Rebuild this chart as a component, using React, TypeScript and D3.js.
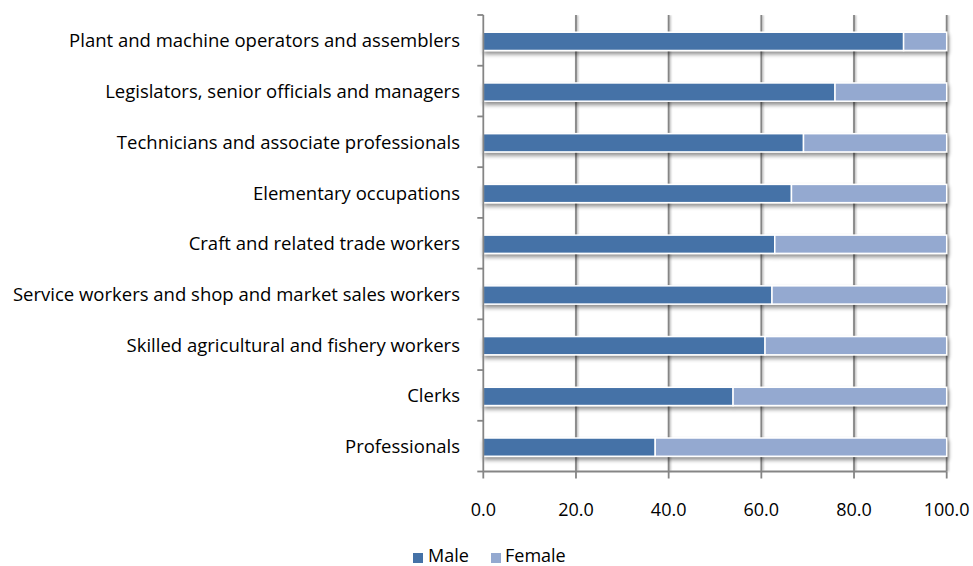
import React from "react";
import * as d3 from "d3";

const categories = [
  "Plant and machine operators and assemblers",
  "Legislators, senior officials and managers",
  "Technicians and associate professionals",
  "Elementary occupations",
  "Craft and related trade workers",
  "Service workers and shop and market sales workers",
  "Skilled agricultural and fishery workers",
  "Clerks",
  "Professionals",
];
const maleValues = [90.7, 75.9, 69.1, 66.5, 62.9, 62.3, 60.8, 53.9, 37.1];
const femaleValues = maleValues.map((m) => +(100 - m).toFixed(1));
const xTicks = [0, 20, 40, 60, 80, 100];
const seriesNames = ["Male", "Female"];
const colors = ["#4572a7", "#94a9d0"];

const W = 973;
const H = 566;
const left = 483.3;
const right = 946.7;
const top = 15;
const bottom = 471.5;
const FONT = "'Open Sans', sans-serif";
const FS = 18;

export default function App() {
  const x = d3.scaleLinear().domain([0, 100]).range([left, right]);
  const y = d3.scaleBand<string>().domain(categories).range([top, bottom]).paddingInner(0.64).paddingOuter(0.32);
  const bh = y.bandwidth();
  const boundaries = d3.range(categories.length + 1).map((i) => top + i * ((bottom - top) / categories.length));

  return (
    <svg width={W} height={H} style={{ position: "absolute", left: 0, top: 0, background: "#fff" }}>
      <defs>
        <filter id="shadow" x="-5%" y="-50%" width="110%" height="250%">
          <feGaussianBlur in="SourceAlpha" stdDeviation="2" />
          <feOffset dx="1" dy="3" result="b" />
          <feComponentTransfer>
            <feFuncA type="linear" slope="0.45" />
          </feComponentTransfer>
          <feMerge>
            <feMergeNode />
            <feMergeNode in="SourceGraphic" />
          </feMerge>
        </filter>
        <filter id="gshadow" x="-200%" y="0%" width="500%" height="110%">
          <feGaussianBlur in="SourceAlpha" stdDeviation="0.8" />
          <feOffset dx="1" dy="0" />
          <feComponentTransfer>
            <feFuncA type="linear" slope="0.35" />
          </feComponentTransfer>
          <feMerge>
            <feMergeNode />
            <feMergeNode in="SourceGraphic" />
          </feMerge>
        </filter>
      </defs>
      {/* gridlines */}
      <g filter="url(#gshadow)">
        {xTicks.slice(1).map((t) => (
          <line key={t} x1={x(t)} x2={x(t)} y1={top} y2={bottom} stroke="#858585" strokeWidth={1.8} />
        ))}
      </g>
      {/* bars */}
      {categories.map((c, i) => {
        const y0 = (y(c) as number) + 1;
        return (
          <g key={c} filter="url(#shadow)">
            <rect x={x(0)} y={y0} width={x(maleValues[i]) - x(0)} height={bh} fill={colors[0]} stroke="#fff" strokeWidth={1.5} />
            <rect x={x(maleValues[i])} y={y0} width={x(maleValues[i] + femaleValues[i]) - x(maleValues[i])} height={bh} fill={colors[1]} stroke="#fff" strokeWidth={1.5} />
          </g>
        );
      })}
      {/* y axis */}
      <line x1={left} x2={left} y1={top} y2={bottom} stroke="#858585" strokeWidth={1.8} />
      {boundaries.map((b, i) => (
        <line key={i} x1={left - 6} x2={left} y1={b} y2={b} stroke="#858585" strokeWidth={1.8} />
      ))}
      {/* x axis */}
      <line x1={left} x2={right} y1={bottom} y2={bottom} stroke="#858585" strokeWidth={1.8} />
      {xTicks.map((t) => (
        <line key={t} x1={x(t)} x2={x(t)} y1={bottom} y2={bottom + 7} stroke="#858585" strokeWidth={1.8} />
      ))}
      {xTicks.map((t) => (
        <text key={t} x={x(t)} y={516} textAnchor="middle" fontFamily={FONT} fontSize={FS} fill="#000">
          {t.toFixed(1)}
        </text>
      ))}
      {/* category labels */}
      {categories.map((c) => (
        <text key={c} x={460} y={(y(c) as number) + bh / 2 + 7} textAnchor="end" fontFamily={FONT} fontSize={18.5} fill="#000">
          {c}
        </text>
      ))}
      {/* legend */}
      <g>
        <rect x={413} y={553} width={10} height={10} fill={colors[0]} />
        <text x={428} y={562} fontFamily={FONT} fontSize={FS} fill="#000">{seriesNames[0]}</text>
        <rect x={491} y={553} width={10} height={10} fill={colors[1]} />
        <text x={505} y={562} fontFamily={FONT} fontSize={FS} fill="#000">{seriesNames[1]}</text>
      </g>
    </svg>
  );
}
